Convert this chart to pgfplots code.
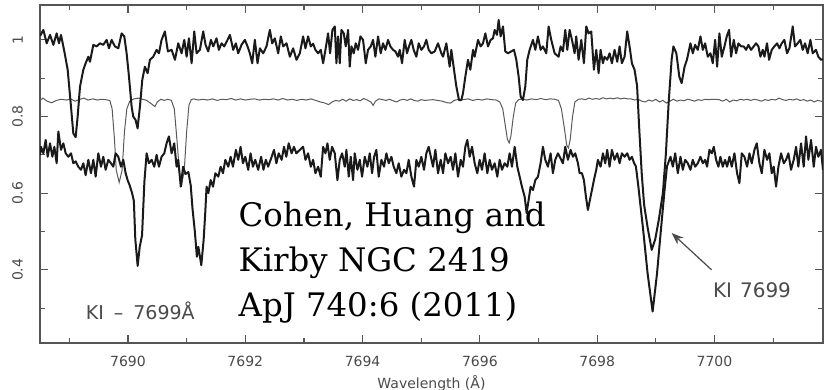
\documentclass[border=0pt]{standalone}
\usepackage{fontspec}
\setmainfont{DejaVu Sans}
\newfontfamily\citefont{DejaVu Serif}
\usepackage{pgfplots}
\pgfplotsset{compat=1.18}
\usetikzlibrary{arrows.meta}
\definecolor{axgray}{HTML}{555555}
\definecolor{txtgray}{HTML}{4A4A4A}
\definecolor{specblack}{HTML}{1A1A1A}
\definecolor{tellgray}{HTML}{5A5A5A}
\begin{document}
\begin{tikzpicture}
\useasboundingbox (-20pt,-23.5pt) rectangle (393.5pt,171.5pt);
\begin{axis}[
  at={(0,0)}, anchor=south west,
  scale only axis, width=391.5pt, height=169pt,
  xmin=7688.5, xmax=7701.85, ymin=0.209, ymax=1.091,
  xtick={7690,7692,7694,7696,7698,7700},
  xticklabels={7690,7692,7694,7696,7698,7700},
  minor xtick={7689,7691,7693,7695,7697,7699,7701},
  ytick={0.4,0.6,0.8,1},
  yticklabels={0.4,0.6,0.8,1},
  minor ytick={0.3,0.5,0.7,0.9},
  tick align=inside, major tick length=4pt, minor tick length=2.5pt,
  axis line style={axgray, line width=0.7pt},
  every tick/.style={axgray, line width=0.6pt},
  ticklabel style={font=\fontsize{7}{8}\selectfont, text=txtgray},
  xticklabel style={yshift=-3pt},
  yticklabel style={rotate=90, anchor=south},
  yticklabel shift=5pt,
  xlabel={Wavelength (Å)},
  xlabel style={font=\fontsize{7}{8}\selectfont, text=txtgray, yshift=2.5pt},
  clip mode=individual,
]
% telluric template (thin)
\addplot[tellgray, line width=0.5pt] coordinates {
(7688.50,0.842) (7688.55,0.848) (7688.62,0.840) (7688.70,0.836) (7688.78,0.842) (7688.86,0.845) (7688.95,0.843) (7689.02,0.846) (7689.10,0.840) (7689.18,0.845) (7689.25,0.848) (7689.32,0.843) (7689.40,0.846) (7689.48,0.843) (7689.55,0.845) (7689.62,0.844)
(7689.69,0.842) (7689.73,0.820) (7689.77,0.740) (7689.80,0.660) (7689.85,0.628) (7689.90,0.660) (7689.94,0.760) (7689.98,0.820) (7690.03,0.840)
(7690.10,0.846) (7690.18,0.848) (7690.25,0.845) (7690.32,0.842) (7690.40,0.833) (7690.46,0.826) (7690.50,0.838) (7690.56,0.845) (7690.62,0.842) (7690.68,0.845)
(7690.74,0.842) (7690.79,0.820) (7690.84,0.730) (7690.88,0.650) (7690.92,0.625) (7690.96,0.660) (7691.00,0.760) (7691.04,0.830) (7691.08,0.844)
(7691.12,0.846) (7691.20,0.843) (7691.28,0.845) (7691.36,0.843) (7691.44,0.846) (7691.52,0.842) (7691.60,0.845) (7691.68,0.844) (7691.76,0.847) (7691.84,0.843) (7691.92,0.846) (7692.00,0.843) (7692.08,0.845) (7692.16,0.846) (7692.24,0.843) (7692.32,0.845) (7692.40,0.844) (7692.48,0.846) (7692.56,0.843) (7692.64,0.847) (7692.72,0.843) (7692.80,0.845) (7692.88,0.842)
(7692.96,0.845) (7693.04,0.843) (7693.12,0.846) (7693.20,0.842) (7693.28,0.838) (7693.36,0.835) (7693.42,0.831) (7693.48,0.838) (7693.54,0.842) (7693.60,0.840) (7693.66,0.845) (7693.72,0.840) (7693.78,0.846) (7693.84,0.842) (7693.90,0.844) (7693.96,0.841) (7694.02,0.847) (7694.08,0.843) (7694.14,0.838) (7694.18,0.829) (7694.22,0.840) (7694.28,0.846) (7694.34,0.844) (7694.40,0.842) (7694.46,0.845) (7694.52,0.841) (7694.58,0.838) (7694.64,0.843) (7694.70,0.845) (7694.76,0.842) (7694.82,0.846) (7694.88,0.842) (7694.94,0.840) (7695.00,0.844) (7695.06,0.842)
(7695.12,0.843) (7695.20,0.844) (7695.28,0.842) (7695.36,0.840) (7695.44,0.836) (7695.50,0.835) (7695.56,0.842) (7695.64,0.845) (7695.72,0.844) (7695.80,0.846) (7695.88,0.842) (7695.96,0.845) (7696.04,0.843) (7696.12,0.846) (7696.20,0.844) (7696.28,0.843)
(7696.34,0.838) (7696.39,0.820) (7696.43,0.780) (7696.47,0.740) (7696.50,0.731) (7696.53,0.750) (7696.57,0.800) (7696.61,0.835) (7696.66,0.844) (7696.72,0.846) (7696.80,0.843) (7696.88,0.846) (7696.96,0.844) (7697.04,0.847) (7697.12,0.844) (7697.20,0.846) (7697.28,0.845)
(7697.34,0.842) (7697.39,0.820) (7697.44,0.770) (7697.48,0.725) (7697.51,0.718) (7697.54,0.740) (7697.58,0.800) (7697.62,0.838) (7697.68,0.845) (7697.74,0.846) (7697.80,0.844) (7697.86,0.848) (7697.92,0.845) (7697.98,0.847) (7698.04,0.845) (7698.10,0.849) (7698.16,0.846) (7698.22,0.848) (7698.28,0.846) (7698.34,0.849) (7698.40,0.846) (7698.46,0.848) (7698.52,0.846) (7698.58,0.846) (7698.64,0.843) (7698.70,0.845) (7698.76,0.840) (7698.82,0.838) (7698.88,0.843) (7698.94,0.840) (7699.00,0.845) (7699.06,0.838) (7699.12,0.842) (7699.18,0.835) (7699.24,0.840) (7699.30,0.845) (7699.36,0.840) (7699.42,0.843) (7699.48,0.841) (7699.54,0.845)
(7699.60,0.843) (7699.66,0.840) (7699.72,0.844) (7699.78,0.842) (7699.84,0.845) (7699.90,0.844) (7699.96,0.845) (7700.02,0.845) (7700.08,0.844) (7700.14,0.840) (7700.20,0.845) (7700.26,0.838) (7700.32,0.843) (7700.38,0.841) (7700.44,0.845) (7700.50,0.843) (7700.56,0.845) (7700.62,0.842) (7700.68,0.845) (7700.74,0.843) (7700.80,0.840) (7700.86,0.844) (7700.92,0.842) (7700.98,0.845) (7701.04,0.843) (7701.10,0.848) (7701.16,0.844) (7701.22,0.842) (7701.28,0.845) (7701.34,0.843) (7701.40,0.846) (7701.46,0.842) (7701.52,0.844) (7701.58,0.840) (7701.64,0.843) (7701.70,0.838) (7701.76,0.842) (7701.85,0.839)
};
% top spectrum (thick)
\addplot[specblack, line width=1pt, line join=round] coordinates {
(7688.500,1.010) (7688.557,1.026) (7688.614,0.991) (7688.671,1.013) (7688.728,0.987) (7688.784,1.017) (7688.824,0.991) (7688.858,1.013) (7688.915,0.970) (7688.972,0.922) (7689.023,0.835) (7689.068,0.756) (7689.108,0.746) (7689.142,0.800) (7689.182,0.878) (7689.239,0.922) (7689.278,0.939) (7689.324,0.956) (7689.352,0.943) (7689.409,0.987) (7689.466,0.983) (7689.523,0.991) (7689.579,0.987) (7689.636,1.000) (7689.676,0.978) (7689.721,1.000) (7689.778,0.983) (7689.835,0.978) (7689.892,1.017) (7689.937,1.009) (7689.977,0.965) (7690.017,0.904) (7690.062,0.826) (7690.090,0.800) (7690.130,0.791) (7690.164,0.769) (7690.204,0.826) (7690.244,0.896) (7690.289,0.930) (7690.335,0.913) (7690.374,0.948) (7690.431,0.956) (7690.488,0.974) (7690.528,0.965) (7690.573,1.000) (7690.630,1.022) (7690.680,0.970)
(7690.744,0.974) (7690.801,0.948) (7690.857,0.991) (7690.914,0.965) (7690.960,1.000) (7691.000,0.956) (7691.039,1.004) (7691.085,0.939) (7691.130,1.022) (7691.170,0.965) (7691.226,0.974) (7691.283,1.022) (7691.323,0.987) (7691.368,0.970) (7691.414,1.000) (7691.454,0.983) (7691.510,1.004) (7691.550,0.974) (7691.596,0.991) (7691.641,0.983) (7691.698,1.000) (7691.738,1.013) (7691.794,0.974) (7691.840,0.991) (7691.879,0.965) (7691.936,0.987) (7691.993,1.000) (7692.038,0.983) (7692.078,0.965) (7692.118,0.939) (7692.163,1.000) (7692.209,0.939) (7692.249,0.978) (7692.305,0.965) (7692.362,0.983) (7692.419,1.026) (7692.459,0.991) (7692.504,1.004) (7692.561,0.965) (7692.606,1.009) (7692.646,0.983) (7692.703,0.991) (7692.760,0.956) (7692.816,0.978) (7692.873,0.948) (7692.930,0.965)
(7692.986,1.009) (7693.026,0.978) (7693.071,1.009) (7693.117,0.983) (7693.157,0.990) (7693.196,0.974) (7693.242,0.965) (7693.287,0.974) (7693.327,0.939) (7693.367,0.974) (7693.412,1.017) (7693.446,0.965) (7693.486,1.026) (7693.526,1.035) (7693.554,0.939) (7693.582,1.009) (7693.611,0.939) (7693.639,1.026) (7693.679,1.017) (7693.713,0.983) (7693.753,1.026) (7693.781,0.930) (7693.810,0.983) (7693.849,0.965) (7693.883,0.991) (7693.923,0.974) (7693.963,1.009) (7694.008,1.000) (7694.054,0.939) (7694.093,0.974) (7694.139,0.983) (7694.179,1.000) (7694.218,0.956) (7694.264,1.009) (7694.309,0.965) (7694.349,0.991) (7694.389,0.974) (7694.434,1.000) (7694.474,0.983) (7694.519,0.974) (7694.559,0.970) (7694.605,0.956) (7694.633,0.974) (7694.673,0.939) (7694.718,1.000) (7694.758,0.965) (7694.792,0.983) (7694.832,1.000) (7694.871,0.974) (7694.917,0.956) (7694.957,0.991) (7695.002,0.974) (7695.047,0.983) (7695.087,1.000) (7695.127,0.974)
(7695.173,0.965) (7695.230,0.970) (7695.286,0.991) (7695.343,0.965) (7695.372,0.956) (7695.428,0.991) (7695.485,0.930) (7695.513,0.974) (7695.559,0.922) (7695.599,0.878) (7695.644,0.843) (7695.684,0.843) (7695.712,0.861) (7695.752,0.904) (7695.797,0.948) (7695.837,0.922) (7695.883,0.974) (7695.911,0.956) (7695.968,1.000) (7696.013,0.983) (7696.053,0.991) (7696.093,1.017) (7696.138,0.983) (7696.184,1.000) (7696.223,1.004) (7696.252,1.026) (7696.291,1.013) (7696.320,1.052) (7696.354,1.009) (7696.394,1.035) (7696.433,0.970) (7696.479,0.965) (7696.536,0.970) (7696.581,0.974) (7696.621,0.948) (7696.661,0.904) (7696.695,0.852) (7696.734,0.843) (7696.774,0.878) (7696.808,0.948) (7696.848,0.974) (7696.905,1.000) (7696.945,0.974) (7696.990,1.009) (7697.035,0.974) (7697.075,0.983) (7697.132,0.965) (7697.172,1.035) (7697.217,1.000) (7697.274,0.965) (7697.342,0.956)
(7697.376,0.983) (7697.416,0.970) (7697.456,1.026) (7697.490,0.974) (7697.530,1.026) (7697.570,1.000) (7697.615,0.965) (7697.643,1.009) (7697.683,0.948) (7697.729,1.000) (7697.774,0.939) (7697.814,1.035) (7697.853,1.017) (7697.899,1.022) (7697.944,0.922) (7697.984,0.974) (7698.024,0.913) (7698.058,0.974) (7698.098,0.939) (7698.126,0.956) (7698.171,0.948) (7698.211,0.965) (7698.251,0.939) (7698.296,0.974) (7698.342,0.943) (7698.382,0.983) (7698.421,0.939) (7698.467,0.956) (7698.512,1.022) (7698.552,0.983) (7698.592,0.939) (7698.637,0.922) (7698.680,0.880) (7698.720,0.760) (7698.760,0.650) (7698.800,0.570) (7698.860,0.510) (7698.930,0.452) (7698.990,0.480) (7699.050,0.530) (7699.120,0.600) (7699.170,0.700) (7699.220,0.840) (7699.270,0.950) (7699.300,0.983) (7699.350,0.965) (7699.400,0.904) (7699.440,0.887) (7699.490,0.930) (7699.530,0.948)
(7699.590,0.991) (7699.630,0.965) (7699.670,0.987) (7699.715,0.974) (7699.761,1.009) (7699.801,0.974) (7699.840,0.991) (7699.886,0.956) (7699.931,0.965) (7699.971,0.939) (7700.011,1.000) (7700.045,0.930) (7700.084,1.017) (7700.124,0.956) (7700.170,0.983) (7700.209,1.009) (7700.249,1.026) (7700.283,0.956) (7700.329,1.000) (7700.368,0.965) (7700.408,0.991) (7700.454,0.983) (7700.499,0.983) (7700.539,0.974) (7700.578,0.987) (7700.624,0.974) (7700.669,0.983) (7700.709,0.991) (7700.749,0.983) (7700.783,0.956) (7700.823,0.974) (7700.851,0.956) (7700.896,0.991) (7700.931,0.948) (7700.976,0.974) (7701.021,0.983) (7701.067,0.991) (7701.107,0.978) (7701.146,0.991) (7701.192,1.000) (7701.237,0.965) (7701.277,0.978) (7701.334,1.035) (7701.373,0.983) (7701.419,0.991) (7701.464,1.000) (7701.504,0.974) (7701.544,0.991) (7701.589,0.965) (7701.635,1.000) (7701.675,0.965) (7701.731,0.974) (7701.771,0.956) (7701.816,0.948) (7701.850,0.950)
};
% bottom spectrum (thick)
\addplot[specblack, line width=1pt, line join=round] coordinates {
(7688.500,0.700) (7688.517,0.721) (7688.557,0.704) (7688.597,0.739) (7688.631,0.695) (7688.671,0.730) (7688.711,0.695) (7688.745,0.721) (7688.784,0.678) (7688.813,0.761) (7688.858,0.713) (7688.898,0.730) (7688.938,0.704) (7688.983,0.695) (7689.029,0.704) (7689.068,0.678) (7689.108,0.683) (7689.153,0.669) (7689.199,0.661) (7689.239,0.678) (7689.278,0.647) (7689.324,0.687) (7689.369,0.652) (7689.409,0.687) (7689.449,0.643) (7689.494,0.704) (7689.540,0.669) (7689.579,0.695) (7689.619,0.661) (7689.665,0.687) (7689.710,0.678) (7689.750,0.669) (7689.789,0.704) (7689.835,0.695) (7689.880,0.669) (7689.920,0.687) (7689.960,0.652) (7689.994,0.634)
(7690.030,0.620) (7690.070,0.600) (7690.100,0.580) (7690.125,0.480) (7690.165,0.410) (7690.200,0.460) (7690.240,0.490) (7690.280,0.630) (7690.318,0.704) (7690.357,0.678) (7690.403,0.687) (7690.448,0.669) (7690.488,0.700) (7690.528,0.669) (7690.573,0.695) (7690.619,0.704) (7690.658,0.730) (7690.698,0.748) (7690.744,0.704) (7690.789,0.730) (7690.829,0.669) (7690.857,0.687) (7690.900,0.617) (7690.940,0.669) (7690.980,0.650) (7691.030,0.655) (7691.070,0.620) (7691.100,0.560) (7691.140,0.500) (7691.175,0.434) (7691.200,0.460) (7691.250,0.412) (7691.290,0.478) (7691.320,0.556) (7691.340,0.617) (7691.370,0.600) (7691.410,0.634) (7691.450,0.617) (7691.490,0.652) (7691.540,0.643) (7691.580,0.669) (7691.620,0.652) (7691.660,0.687) (7691.710,0.669) (7691.750,0.695) (7691.790,0.669) (7691.840,0.713) (7691.880,0.687) (7691.920,0.721) (7691.960,0.678) (7692.000,0.695) (7692.050,0.661) (7692.090,0.704) (7692.130,0.669) (7692.170,0.687) (7692.220,0.661) (7692.270,0.695) (7692.310,0.661) (7692.350,0.687) (7692.390,0.669) (7692.450,0.695) (7692.490,0.713) (7692.530,0.678) (7692.570,0.704) (7692.620,0.687) (7692.660,0.721) (7692.700,0.695) (7692.740,0.730) (7692.790,0.704) (7692.830,0.721) (7692.870,0.704) (7692.930,0.713)
(7692.986,0.721) (7693.026,0.687) (7693.071,0.704) (7693.117,0.669) (7693.157,0.687) (7693.196,0.652) (7693.242,0.669) (7693.287,0.643) (7693.327,0.721) (7693.367,0.704) (7693.401,0.730) (7693.440,0.687) (7693.480,0.721) (7693.526,0.704) (7693.571,0.634) (7693.611,0.687) (7693.651,0.704) (7693.696,0.669) (7693.724,0.713) (7693.764,0.643) (7693.798,0.695) (7693.838,0.634) (7693.866,0.704) (7693.912,0.661) (7693.952,0.687) (7693.991,0.643) (7694.037,0.695) (7694.082,0.669) (7694.122,0.704) (7694.162,0.652) (7694.196,0.695) (7694.235,0.713) (7694.275,0.643) (7694.321,0.687) (7694.366,0.669) (7694.406,0.704) (7694.446,0.678) (7694.491,0.695) (7694.531,0.669) (7694.576,0.652) (7694.616,0.678) (7694.661,0.643) (7694.707,0.661) (7694.747,0.652) (7694.786,0.687) (7694.832,0.643) (7694.877,0.617) (7694.917,0.687) (7694.957,0.669) (7695.002,0.695) (7695.047,0.661) (7695.087,0.704) (7695.127,0.721)
(7695.201,0.669) (7695.241,0.713) (7695.286,0.652) (7695.332,0.687) (7695.372,0.652) (7695.411,0.704) (7695.457,0.678) (7695.502,0.695) (7695.542,0.661) (7695.582,0.704) (7695.627,0.643) (7695.673,0.687) (7695.712,0.669) (7695.752,0.721) (7695.786,0.739) (7695.826,0.695) (7695.866,0.721) (7695.911,0.678) (7695.956,0.652) (7695.996,0.687) (7696.036,0.661) (7696.081,0.704) (7696.127,0.652) (7696.167,0.687) (7696.206,0.661) (7696.252,0.678) (7696.297,0.643) (7696.337,0.687) (7696.377,0.661) (7696.422,0.678) (7696.468,0.669) (7696.507,0.704) (7696.547,0.669) (7696.593,0.721) (7696.638,0.669) (7696.678,0.643) (7696.717,0.617) (7696.763,0.591) (7696.797,0.548) (7696.831,0.582) (7696.865,0.617) (7696.905,0.608) (7696.945,0.634) (7696.990,0.643) (7697.035,0.678) (7697.075,0.721) (7697.115,0.687) (7697.160,0.669) (7697.206,0.704) (7697.245,0.652) (7697.285,0.687) (7697.331,0.704)
(7697.416,0.678) (7697.456,0.721) (7697.501,0.687) (7697.547,0.713) (7697.587,0.695) (7697.626,0.704) (7697.672,0.678) (7697.700,0.652) (7697.740,0.652) (7697.774,0.634) (7697.808,0.591) (7697.842,0.556) (7697.876,0.582) (7697.910,0.608) (7697.944,0.634) (7697.984,0.661) (7698.012,0.687) (7698.058,0.669) (7698.098,0.704) (7698.137,0.678) (7698.171,0.713) (7698.211,0.669) (7698.251,0.713) (7698.296,0.687) (7698.342,0.704) (7698.382,0.678) (7698.421,0.704) (7698.467,0.695) (7698.512,0.704) (7698.552,0.687) (7698.592,0.695) (7698.630,0.678) (7698.660,0.670) (7698.700,0.620) (7698.780,0.510) (7698.860,0.390) (7698.945,0.291) (7699.020,0.390) (7699.090,0.510) (7699.150,0.610) (7699.190,0.670) (7699.250,0.695) (7699.290,0.669) (7699.330,0.704) (7699.375,0.652) (7699.420,0.695) (7699.460,0.661) (7699.500,0.687) (7699.545,0.678)
(7699.590,0.661) (7699.630,0.687) (7699.670,0.669) (7699.715,0.678) (7699.761,0.695) (7699.801,0.678) (7699.840,0.687) (7699.874,0.669) (7699.914,0.713) (7699.954,0.704) (7699.988,0.721) (7700.028,0.687) (7700.067,0.669) (7700.101,0.695) (7700.141,0.669) (7700.181,0.687) (7700.215,0.669) (7700.255,0.695) (7700.295,0.669) (7700.340,0.704) (7700.385,0.652) (7700.425,0.626) (7700.465,0.704) (7700.510,0.695) (7700.556,0.669) (7700.596,0.704) (7700.635,0.678) (7700.681,0.713) (7700.721,0.730) (7700.766,0.678) (7700.806,0.652) (7700.851,0.713) (7700.897,0.687) (7700.936,0.704) (7700.976,0.652) (7701.010,0.669) (7701.050,0.617) (7701.090,0.669) (7701.135,0.704) (7701.181,0.678) (7701.220,0.687) (7701.260,0.704) (7701.305,0.661) (7701.351,0.687) (7701.391,0.721) (7701.430,0.669) (7701.476,0.730) (7701.521,0.669) (7701.561,0.748) (7701.601,0.687) (7701.646,0.739) (7701.692,0.669) (7701.731,0.721) (7701.771,0.695) (7701.816,0.713) (7701.850,0.661)
};
% annotations
\node[font=\fontsize{9.5}{11}\selectfont, text=txtgray] at (axis cs:7690.21,0.292) {KI\hspace{5pt}--\hspace{5pt}7699Å};
\node[font=\fontsize{10}{12}\selectfont, text=txtgray] at (axis cs:7700.64,0.347) {KI\hspace{4pt}7699};
\draw[txtgray, line width=0.6pt, -{Stealth[length=6pt,width=4.5pt]}] (axis cs:7699.95,0.40) -- (axis cs:7699.27,0.496);
\node[anchor=base west, inner sep=0pt, font=\citefont\fontsize{16.2}{18}\selectfont] at (axis cs:7691.88,0.5125) {Cohen, Huang and};
\node[anchor=base west, inner sep=0pt, font=\citefont\fontsize{16.2}{18}\selectfont] at (axis cs:7691.88,0.395) {Kirby NGC 2419};
\node[anchor=base west, inner sep=0pt, font=\citefont\fontsize{16.2}{18}\selectfont] at (axis cs:7691.88,0.2776) {ApJ 740:6 (2011)};
\end{axis}
\end{tikzpicture}
\end{document}
